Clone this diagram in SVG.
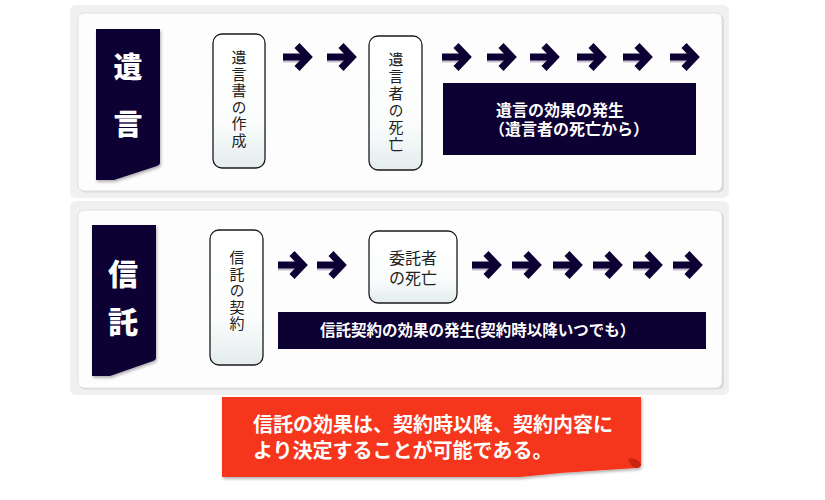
<svg xmlns="http://www.w3.org/2000/svg" width="825" height="500" viewBox="0 0 825 500">
<defs>
<style>
.frame{fill:#f0f0f0}
.panel{fill:#fdfdfd;stroke:#e0e0e0;stroke-width:1}
.pshadow{fill:#dadada}
.ribbon{fill:#0d0033}
.rtxt{font-family:"Noto Sans CJK JP","Noto Sans CJK SC",sans-serif;font-weight:900;fill:#ffffff;text-anchor:middle}
.node{fill:url(#ng);stroke:#1a1a1a;stroke-width:1.3}
.ntxt{font-family:"Liberation Sans","Noto Sans CJK JP","Noto Sans CJK SC",sans-serif;font-size:16px;fill:#222;text-anchor:middle}
.vtxt{font-family:"Noto Sans CJK JP","Noto Sans CJK SC",sans-serif;font-size:15px;fill:#222;writing-mode:vertical-rl;text-orientation:upright;letter-spacing:1.5px}
.eff{fill:#0d0033}
.etxt{font-family:"Liberation Sans","Noto Sans CJK JP","Noto Sans CJK SC",sans-serif;font-weight:700;font-size:16px;fill:#ffffff}
.ctxt{font-family:"Liberation Sans","Noto Sans CJK JP","Noto Sans CJK SC",sans-serif;font-weight:700;font-size:20px;fill:#ffffff}
.arr{fill:#0d0033}
.arrl{fill:none;stroke:#0d0033;stroke-width:7;stroke-linejoin:miter}
</style>
<linearGradient id="ng" x1="0" y1="0" x2="0" y2="1">
<stop offset="0" stop-color="#ffffff"/>
<stop offset="0.65" stop-color="#fbfdfd"/>
<stop offset="1" stop-color="#e4ecee"/>
</linearGradient>
<filter id="sh" x="-20%" y="-20%" width="140%" height="140%">
<feDropShadow dx="1" dy="2" stdDeviation="1.5" flood-color="#000" flood-opacity="0.3"/>
</filter>
<g id="arrow">
<rect x="0" y="-1.5" width="21" height="7" fill="#8a86a8" opacity="0.5"/>
<rect x="0" y="-3.5" width="21" height="7" class="arr"/>
<polyline points="14,-11.5 25,0 14,11.5" class="arrl"/>
</g>
</defs>

<rect width="825" height="500" fill="#ffffff"/>

<!-- panels -->
<g id="panel-top">
<rect x="70" y="5" width="659" height="193" rx="6" class="frame"/>
<rect x="79" y="14.5" width="645" height="178" rx="6" class="pshadow"/>
<rect x="78" y="13" width="644" height="178" rx="6" class="panel"/>
</g>
<g id="panel-bottom">
<rect x="70" y="201" width="659" height="194" rx="6" class="frame"/>
<rect x="79" y="211.5" width="645" height="178" rx="6" class="pshadow"/>
<rect x="78" y="210" width="644" height="178" rx="6" class="panel"/>
</g>

<!-- ribbons -->
<g id="ribbon-yuigon">
<path d="M96,29 H160 V163 Q160,165 157,166 L114,180 H96 Z" class="ribbon" filter="url(#sh)"/>
<text class="rtxt" font-size="29"><tspan x="128" y="78">遺</tspan><tspan x="128" y="135">言</tspan></text>
</g>
<g id="ribbon-shintaku">
<path d="M92,225 H156 V358 Q156,360 153,361 L110,376 H92 Z" class="ribbon" filter="url(#sh)"/>
<text class="rtxt" font-size="30"><tspan x="123" y="285">信</tspan><tspan x="123" y="333">託</tspan></text>
</g>

<!-- nodes -->
<g id="node-will-create">
<rect x="213" y="34" width="52" height="134" rx="9" class="node"/>
<text class="vtxt" x="239" y="50">遺言書の作成</text>
</g>
<g id="node-testator-death">
<rect x="369" y="36" width="53" height="134" rx="9" class="node"/>
<text class="vtxt" x="396" y="52" style="letter-spacing:2px">遺言者の死亡</text>
</g>
<g id="effect-will">
<rect x="443" y="83" width="253" height="72" class="eff"/>
<text class="etxt"><tspan x="496" y="116">遺言の効果の発生</tspan><tspan x="489" y="135">（遺言者の死亡から）</tspan></text>
</g>

<g id="node-trust-contract">
<rect x="210" y="230" width="53" height="135" rx="9" class="node"/>
<text class="vtxt" x="237" y="250">信託の契約</text>
</g>
<g id="node-settlor-death">
<rect x="369" y="231" width="88" height="72" rx="9" class="node"/>
<text class="ntxt"><tspan x="413" y="264">委託者</tspan><tspan x="413" y="284">の死亡</tspan></text>
</g>
<g id="effect-trust">
<rect x="278" y="312" width="428" height="37" class="eff"/>
<text class="etxt" style="font-size:15.5px" x="320" y="336">信託契約の効果の発生(契約時以降いつでも）</text>
</g>

<!-- connectors -->
<g id="connectors">
<use href="#arrow" x="283" y="57"/>
<use href="#arrow" x="327" y="57"/>
<use href="#arrow" x="442" y="57"/>
<use href="#arrow" x="487" y="57"/>
<use href="#arrow" x="530" y="57"/>
<use href="#arrow" x="577" y="57"/>
<use href="#arrow" x="623" y="57"/>
<use href="#arrow" x="670" y="57"/>
<use href="#arrow" x="278" y="265"/>
<use href="#arrow" x="317" y="265"/>
<use href="#arrow" x="472" y="265"/>
<use href="#arrow" x="512" y="265"/>
<use href="#arrow" x="553" y="265"/>
<use href="#arrow" x="593" y="265"/>
<use href="#arrow" x="633" y="265"/>
<use href="#arrow" x="673" y="265"/>
</g>

<!-- callout -->
<g id="callout">
<path d="M222,397 H641 V464 Q641,468 636,468 L560,473 Q540,475 520,477 H222 Z" fill="#f5361a" filter="url(#sh)"/>
<path d="M628,459 Q636,457 641,464 Q641,468 636,468 Q630,466 628,459 Z" fill="#c9260f"/>
<text class="ctxt"><tspan x="253" y="432">信託の効果は、契約時以降、契約内容に</tspan><tspan x="253" y="458">より決定することが可能である。</tspan></text>
</g>
</svg>
